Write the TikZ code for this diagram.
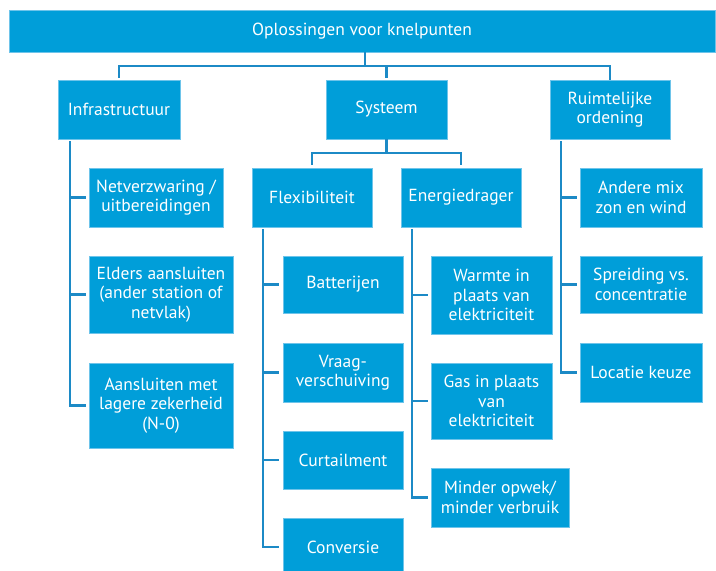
\documentclass[tikz,border=0pt]{standalone}
\usepackage{fontspec}
\setmainfont{PT Sans}
\definecolor{boxblue}{RGB}{0,158,217}
\definecolor{edgeblue}{RGB}{110,196,234}
\definecolor{lineblue}{RGB}{28,138,198}
\begin{document}
\begin{tikzpicture}[x=1pt, y=-1pt,
    box/.style={fill=boxblue, draw=edgeblue, line width=0.6pt, text=white,
      align=center, inner sep=2pt,
      font=\fontsize{17.5}{19.5}\selectfont},
    link/.style={draw=lineblue, line width=2.4pt},
  ]
  \useasboundingbox (0,0) rectangle (716,571);
  % top and first level
  \node[box, minimum width=706, minimum height=42] (top) at (362,31)
    {Oplossingen voor knelpunten};
  \node[box, minimum width=122, minimum height=59] (infra) at (119,109.5)
    {Infrastructuur};
  \node[box, minimum width=121, minimum height=59] (sys) at (386.5,109.5)
    {Systeem};
  \node[box, minimum width=120, minimum height=59] (ruim) at (610,109.5)
    {Ruimtelijke\\ordening};
  % infrastructuur
  \node[box, minimum width=134, minimum height=59] (netv) at (156,197.5)
    {Netverzwaring /\\uitbereidingen};
  \node[box, minimum width=144, minimum height=77] (elders) at (161,294.5)
    {Elders aansluiten\\(ander station of\\netvlak)};
  \node[box, minimum width=144, minimum height=85] (aansl) at (161,405.5)
    {Aansluiten met\\lagere zekerheid\\(N-0)};
  % systeem
  \node[box, minimum width=120, minimum height=59] (flex) at (312,197.5)
    {Flexibiliteit};
  \node[box, minimum width=120, minimum height=59] (energ) at (461,197.5)
    {Energiedrager};
  \node[box, minimum width=120, minimum height=57] (batt) at (343,284.5)
    {Batterijen};
  \node[box, minimum width=120, minimum height=59] (vraag) at (343,372.5)
    {Vraag-\\verschuiving};
  \node[box, minimum width=120, minimum height=58] (curt) at (343,460)
    {Curtailment};
  \node[box, minimum width=120, minimum height=58] (conv) at (343,547)
    {Conversie};
  \node[box, minimum width=121, minimum height=78] (warmte) at (491.5,295)
    {Warmte in\\plaats van\\elektriciteit};
  \node[box, minimum width=121, minimum height=76] (gas) at (491.5,401)
    {Gas in plaats\\van\\elektriciteit};
  \node[box, minimum width=138, minimum height=59] (minder) at (500,497.5)
    {Minder opwek/\\minder verbruik};
  % ruimtelijke ordening
  \node[box, minimum width=122, minimum height=59] (andere) at (641,197.5)
    {Andere mix\\zon en wind};
  \node[box, minimum width=122, minimum height=57] (spreid) at (641,284.5)
    {Spreiding vs.\\concentratie};
  \node[box, minimum width=122, minimum height=59] (locatie) at (641,372.5)
    {Locatie keuze};
  % connectors
  \coordinate (bus) at (365,66);
  \coordinate (sysbus) at (386.5,153);
  \coordinate (infraspine) at (70,141);
  \coordinate (flexspine) at (263,229);
  \coordinate (energspine) at (412,229);
  \coordinate (ruimspine) at (561,141);
  \draw[link] (top.south -| bus) -- (bus);
  \draw[link, shorten <=2pt] (infra.north) |- (bus) -| (ruim.north);
  \draw[link, shorten <=2pt] (sys.north) -- (sys.north |- bus);
  \draw[link] (sys.south) -- (sysbus);
  \draw[link, shorten <=3pt, shorten >=3pt] (flex.north) |- (sysbus) -| (energ.north);
  \draw[link, shorten >=3pt] (infraspine) |- (aansl.west);
  \foreach \n in {netv,elders}
    \draw[link, shorten <=3pt] (\n.west) -- (\n.west -| infraspine);
  \draw[link, shorten >=4pt] (flexspine) |- (conv.west);
  \foreach \n in {batt,vraag,curt}
    \draw[link, shorten <=4pt] (\n.west) -- (\n.west -| flexspine);
  \draw[link, shorten >=3pt] (energspine) |- (minder.west);
  \foreach \n in {warmte,gas}
    \draw[link, shorten <=3pt] (\n.west) -- (\n.west -| energspine);
  \draw[link, shorten >=3pt] (ruimspine) |- (locatie.west);
  \foreach \n in {andere,spreid}
    \draw[link, shorten <=3pt] (\n.west) -- (\n.west -| ruimspine);
\end{tikzpicture}
\end{document}
